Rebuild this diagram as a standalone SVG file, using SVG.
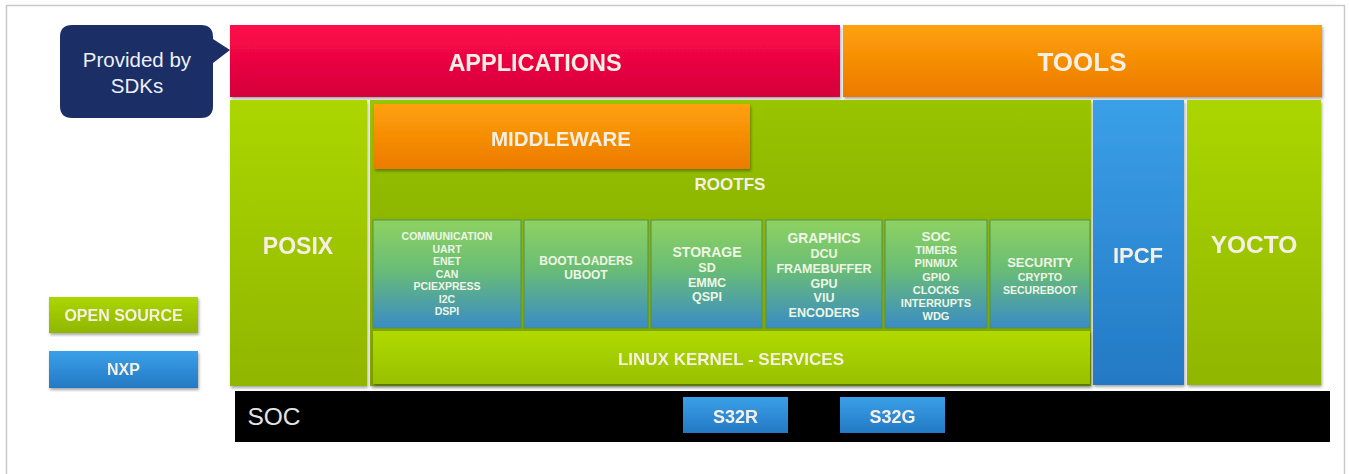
<svg xmlns="http://www.w3.org/2000/svg" width="1349" height="474" viewBox="0 0 1349 474">
  <defs>
    <linearGradient id="gRed" x1="0" y1="0" x2="0" y2="1">
      <stop offset="0" stop-color="#ff0a4a"/>
      <stop offset="1" stop-color="#d4003a"/>
    </linearGradient>
    <linearGradient id="gOrange" x1="0" y1="0" x2="0" y2="1">
      <stop offset="0" stop-color="#ffa10a"/>
      <stop offset="1" stop-color="#ec7a00"/>
    </linearGradient>
    <linearGradient id="gGreen" x1="0" y1="0" x2="0" y2="1">
      <stop offset="0" stop-color="#acd600"/>
      <stop offset="1" stop-color="#90b600"/>
    </linearGradient>
    <linearGradient id="gGreenDark" x1="0" y1="0" x2="0" y2="1">
      <stop offset="0" stop-color="#98c400"/>
      <stop offset="1" stop-color="#7ea200"/>
    </linearGradient>
    <linearGradient id="gKernel" x1="0" y1="0" x2="0" y2="1">
      <stop offset="0" stop-color="#b0da00"/>
      <stop offset="1" stop-color="#98c000"/>
    </linearGradient>
    <linearGradient id="gBlue" x1="0" y1="0" x2="0" y2="1">
      <stop offset="0" stop-color="#3aa0e8"/>
      <stop offset="1" stop-color="#2479c4"/>
    </linearGradient>
    <linearGradient id="gModule" x1="0" y1="0" x2="0" y2="1">
      <stop offset="0" stop-color="#8fd262"/>
      <stop offset="0.45" stop-color="#6abd74"/>
      <stop offset="1" stop-color="#3a8cc6"/>
    </linearGradient>
    <filter id="shadow" x="-5%" y="-5%" width="110%" height="115%">
      <feDropShadow dx="1" dy="2" stdDeviation="1.5" flood-color="#000" flood-opacity="0.35"/>
    </filter>
    <style>
      text { font-family: "Liberation Sans", Arial, sans-serif; text-anchor: middle; }
      .b { font-weight: bold; }
      .title { font-weight: bold; fill: #f6f0e4; }
      .mod { font-weight: bold; fill: #eef6e4; }
      .modbox { fill: url(#gModule); stroke: #4f8f5a; stroke-width: 1; }
    </style>
  </defs>

  <!-- page frame -->
  <rect x="0" y="0" width="1349" height="474" fill="#ffffff"/>
  <rect x="6.5" y="5.5" width="1338" height="490" fill="none" stroke="#c9c9c9" stroke-width="1.5"/>

  <!-- callout -->
  <g id="callout">
    <path d="M72 25 H201 Q213 25 213 37 V39 L230 50 L213 63 V106 Q213 118 201 118 H72 Q60 118 60 106 V37 Q60 25 72 25 Z" fill="#1b2f66"/>
    <text x="137" y="67" font-size="20.5" fill="#eef0f6">Provided by</text>
    <text x="137" y="93" font-size="20.5" fill="#eef0f6">SDKs</text>
  </g>

  <!-- top row -->
  <g id="applications" filter="url(#shadow)">
    <rect x="230" y="25" width="610" height="72" fill="url(#gRed)"/>
    <text class="title" x="535" y="71" font-size="23.5">APPLICATIONS</text>
  </g>
  <g id="tools" filter="url(#shadow)">
    <rect x="843" y="25" width="479" height="72" fill="url(#gOrange)"/>
    <text class="title" x="1082" y="71" font-size="26" fill="#fbe9cc">TOOLS</text>
  </g>

  <!-- left column -->
  <g id="posix" filter="url(#shadow)">
    <rect x="230" y="100" width="137" height="286" fill="url(#gGreen)"/>
    <text class="title" x="298" y="254" font-size="23">POSIX</text>
  </g>

  <!-- root filesystem block -->
  <g id="rootfs">
    <rect x="370" y="100" width="721" height="286" fill="url(#gGreenDark)" filter="url(#shadow)"/>
    <text class="title" x="730" y="190" font-size="17">ROOTFS</text>
  </g>
  <g id="middleware" filter="url(#shadow)">
    <rect x="374" y="104" width="376" height="65" fill="url(#gOrange)"/>
    <text class="title" x="561" y="146" font-size="20.5">MIDDLEWARE</text>
  </g>

  <!-- driver modules -->
  <g id="mod-communication">
    <rect class="modbox" x="373" y="220" width="148" height="108"/>
    <text class="mod" font-size="10.5" x="447" y="240">COMMUNICATION</text>
    <text class="mod" font-size="10.5" x="447" y="252.5">UART</text>
    <text class="mod" font-size="10.5" x="447" y="265">ENET</text>
    <text class="mod" font-size="10.5" x="447" y="277.5">CAN</text>
    <text class="mod" font-size="10.5" x="447" y="290">PCIEXPRESS</text>
    <text class="mod" font-size="10.5" x="447" y="302.5">I2C</text>
    <text class="mod" font-size="10.5" x="447" y="315">DSPI</text>
  </g>
  <g id="mod-bootloaders">
    <rect class="modbox" x="524" y="220" width="124" height="108"/>
    <text class="mod" font-size="12" x="586" y="265">BOOTLOADERS</text>
    <text class="mod" font-size="12" x="586" y="279">UBOOT</text>
  </g>
  <g id="mod-storage">
    <rect class="modbox" x="651" y="220" width="111" height="108"/>
    <text class="mod" font-size="14" x="707" y="257">STORAGE</text>
    <text class="mod" font-size="12.5" x="707" y="272">SD</text>
    <text class="mod" font-size="12.5" x="707" y="287">EMMC</text>
    <text class="mod" font-size="12.5" x="707" y="301">QSPI</text>
  </g>
  <g id="mod-graphics">
    <rect class="modbox" x="766" y="220" width="116" height="108"/>
    <text class="mod" font-size="13.8" x="824" y="243">GRAPHICS</text>
    <text class="mod" font-size="12.5" x="824" y="258">DCU</text>
    <text class="mod" font-size="12.5" x="824" y="273">FRAMEBUFFER</text>
    <text class="mod" font-size="12.5" x="824" y="288">GPU</text>
    <text class="mod" font-size="12.5" x="824" y="302">VIU</text>
    <text class="mod" font-size="12.5" x="824" y="317">ENCODERS</text>
  </g>
  <g id="mod-soc">
    <rect class="modbox" x="885" y="220" width="102" height="108"/>
    <text class="mod" font-size="13.4" x="936" y="241">SOC</text>
    <text class="mod" font-size="11" x="936" y="254">TIMERS</text>
    <text class="mod" font-size="11" x="936" y="267">PINMUX</text>
    <text class="mod" font-size="11" x="936" y="281">GPIO</text>
    <text class="mod" font-size="11" x="936" y="294">CLOCKS</text>
    <text class="mod" font-size="11" x="936" y="307">INTERRUPTS</text>
    <text class="mod" font-size="11" x="936" y="320">WDG</text>
  </g>
  <g id="mod-security">
    <rect class="modbox" x="990" y="220" width="100" height="108"/>
    <text class="mod" font-size="13" x="1040" y="267">SECURITY</text>
    <text class="mod" font-size="10.8" x="1040" y="281">CRYPTO</text>
    <text class="mod" font-size="10.5" x="1040" y="294">SECUREBOOT</text>
  </g>

  <!-- kernel -->
  <g id="kernel" filter="url(#shadow)">
    <rect x="373" y="331" width="717" height="53" fill="url(#gKernel)"/>
    <text class="title" x="731" y="365" font-size="17">LINUX KERNEL - SERVICES</text>
  </g>

  <!-- right columns -->
  <g id="ipcf" filter="url(#shadow)">
    <rect x="1093" y="100" width="91" height="285" fill="url(#gBlue)"/>
    <text class="title" x="1138" y="263" font-size="22">IPCF</text>
  </g>
  <g id="yocto" filter="url(#shadow)">
    <rect x="1187" y="100" width="134" height="285" fill="url(#gGreen)"/>
    <text class="title" x="1254" y="253" font-size="24.5">YOCTO</text>
  </g>

  <!-- SoC bar -->
  <g id="soc">
    <rect x="235" y="391" width="1095" height="51" fill="#000000"/>
    <text x="274" y="425" font-size="24.5" fill="#e4e4e4">SOC</text>
  </g>
  <g id="s32r" filter="url(#shadow)">
    <rect x="683" y="397" width="105" height="36" fill="url(#gBlue)"/>
    <text class="title" x="735.5" y="423" font-size="18">S32R</text>
  </g>
  <g id="s32g" filter="url(#shadow)">
    <rect x="840" y="397" width="105" height="36" fill="url(#gBlue)"/>
    <text class="title" x="892.5" y="423" font-size="18">S32G</text>
  </g>

  <!-- legend -->
  <g id="legend-open-source" filter="url(#shadow)">
    <rect x="49" y="297" width="149" height="36" fill="url(#gGreen)"/>
    <text class="title" x="123.5" y="321" font-size="16">OPEN SOURCE</text>
  </g>
  <g id="legend-nxp" filter="url(#shadow)">
    <rect x="49" y="351" width="149" height="37" fill="url(#gBlue)"/>
    <text class="title" x="123.5" y="375" font-size="16">NXP</text>
  </g>

  <g id="connectors"/>
</svg>
